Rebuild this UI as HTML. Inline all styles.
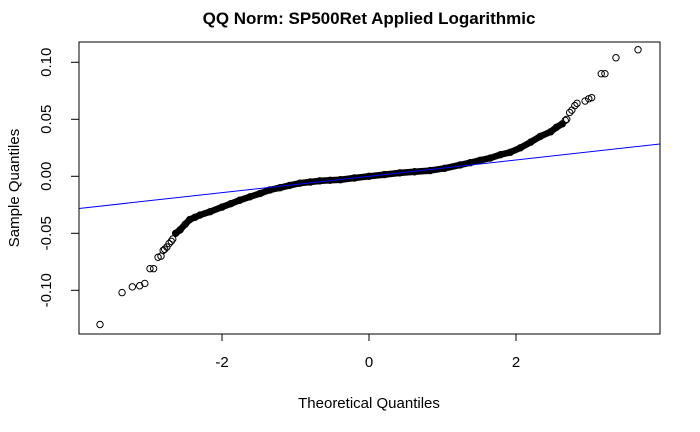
<!DOCTYPE html>
<html><head><meta charset="utf-8"><style>
body{margin:0;background:#fff;}
svg{display:block;font-family:"Liberation Sans",Arial,sans-serif;}
</style></head><body>
<svg id="chart" width="700" height="432" viewBox="0 0 700 432">
<rect width="700" height="432" fill="#fff"/>
<text x="369" y="24" text-anchor="middle" font-size="17" font-weight="bold">QQ Norm: SP500Ret Applied Logarithmic</text>
<text x="369" y="408" text-anchor="middle" font-size="15">Theoretical Quantiles</text>
<text transform="translate(19,188) rotate(-90)" text-anchor="middle" font-size="15">Sample Quantiles</text>
<g id="axes"></g>
<g id="marks"></g>
<rect x="79" y="42" width="581" height="292" fill="none" stroke="#000" stroke-width="1"/>
</svg>
<script>
const theoretical = [-3.66,-3.36,-3.22,-3.12,-3.05,-2.98,-2.93,-2.87,-2.83,-2.80,-2.78,-2.75,-2.72,-2.69,-2.67,-2.63,-2.57,-2.50,-2.44,-2.37,-2.30,-2.16,-2.0,-1.88,-1.76,-1.62,-1.48,-1.35,-1.21,-1.08,-0.94,-0.80,-0.67,-0.53,-0.39,-0.20,0,0.21,0.42,0.62,0.83,1.03,1.24,1.38,1.51,1.65,1.79,1.92,2.06,2.20,2.33,2.47,2.55,2.63,2.67,2.69,2.73,2.76,2.80,2.83,2.94,2.99,3.03,3.16,3.21,3.36,3.66];
const sample = [-0.130,-0.102,-0.097,-0.096,-0.094,-0.081,-0.081,-0.071,-0.070,-0.065,-0.064,-0.062,-0.059,-0.057,-0.055,-0.050,-0.047,-0.042,-0.038,-0.036,-0.034,-0.031,-0.027,-0.024,-0.021,-0.018,-0.015,-0.012,-0.010,-0.008,-0.006,-0.005,-0.004,-0.0035,-0.003,-0.0015,0,0.0015,0.003,0.004,0.005,0.007,0.010,0.012,0.014,0.016,0.019,0.021,0.025,0.030,0.035,0.039,0.043,0.046,0.049,0.050,0.056,0.058,0.062,0.064,0.066,0.068,0.069,0.090,0.090,0.104,0.111];
const denseStart = 15, denseEnd = 53;
const lineIntercept = 0.0;
const lineSlope = 0.00716;
const xTicks = [-2,0,2];
const yTicks = [-0.10,-0.05,0.00,0.05,0.10];
const yTickLabels = ["-0.10","-0.05","0.00","0.05","0.10"];

const NS="http://www.w3.org/2000/svg";
const L=79,R=660,T=42,B=334;
const sx=v=>369+v*73.5;
const sy=v=>176.3-v*1140;
const axes=document.getElementById('axes'), marks=document.getElementById('marks');
function mk(tag,attrs,parent){const e=document.createElementNS(NS,tag);for(const k in attrs)e.setAttribute(k,attrs[k]);parent.appendChild(e);return e;}

const xa=mk('line',{x1:sx(xTicks[0]),x2:sx(xTicks[xTicks.length-1]),y1:B,y2:B,stroke:'#000'},axes);


xTicks.forEach(t=>{
  const l=mk('line',{x1:sx(t),x2:sx(t),y1:B,y2:B+7,stroke:'#000'},axes);
  
  
  const tx=mk('text',{x:sx(t),y:367,'text-anchor':'middle','font-size':15},axes);
  tx.textContent=String(t);
  
  
});
yTicks.forEach((t,i)=>{
  const l=mk('line',{x1:L-8,x2:L,y1:sy(t),y2:sy(t),stroke:'#000'},axes);
  
  
  const tx=mk('text',{transform:`translate(51,${sy(t)}) rotate(-90)`,'text-anchor':'middle','font-size':15},axes);
  tx.textContent=yTickLabels[i];
  
  
});

let d='';
for(let i=denseStart;i<=denseEnd;i++){d+=(i===denseStart?'M':'L')+sx(theoretical[i])+','+sy(sample[i]);}
const band=mk('path',{d:d,fill:'none',stroke:'#000','stroke-width':6.5,'stroke-linejoin':'round','stroke-linecap':'round'},marks);



theoretical.forEach((x,i)=>{
  const c=mk('circle',{cx:sx(x),cy:sy(sample[i]),r:3.2,fill:'none',stroke:'#000','stroke-width':1},marks);
  
  
});

const x0=(L-369)/73.5, x1=(R-369)/73.5;
const ln=mk('line',{x1:L,x2:R,y1:sy(lineIntercept+lineSlope*x0),y2:sy(lineIntercept+lineSlope*x1),stroke:'#0000ff','stroke-width':1},marks);


</script>
</body></html>
